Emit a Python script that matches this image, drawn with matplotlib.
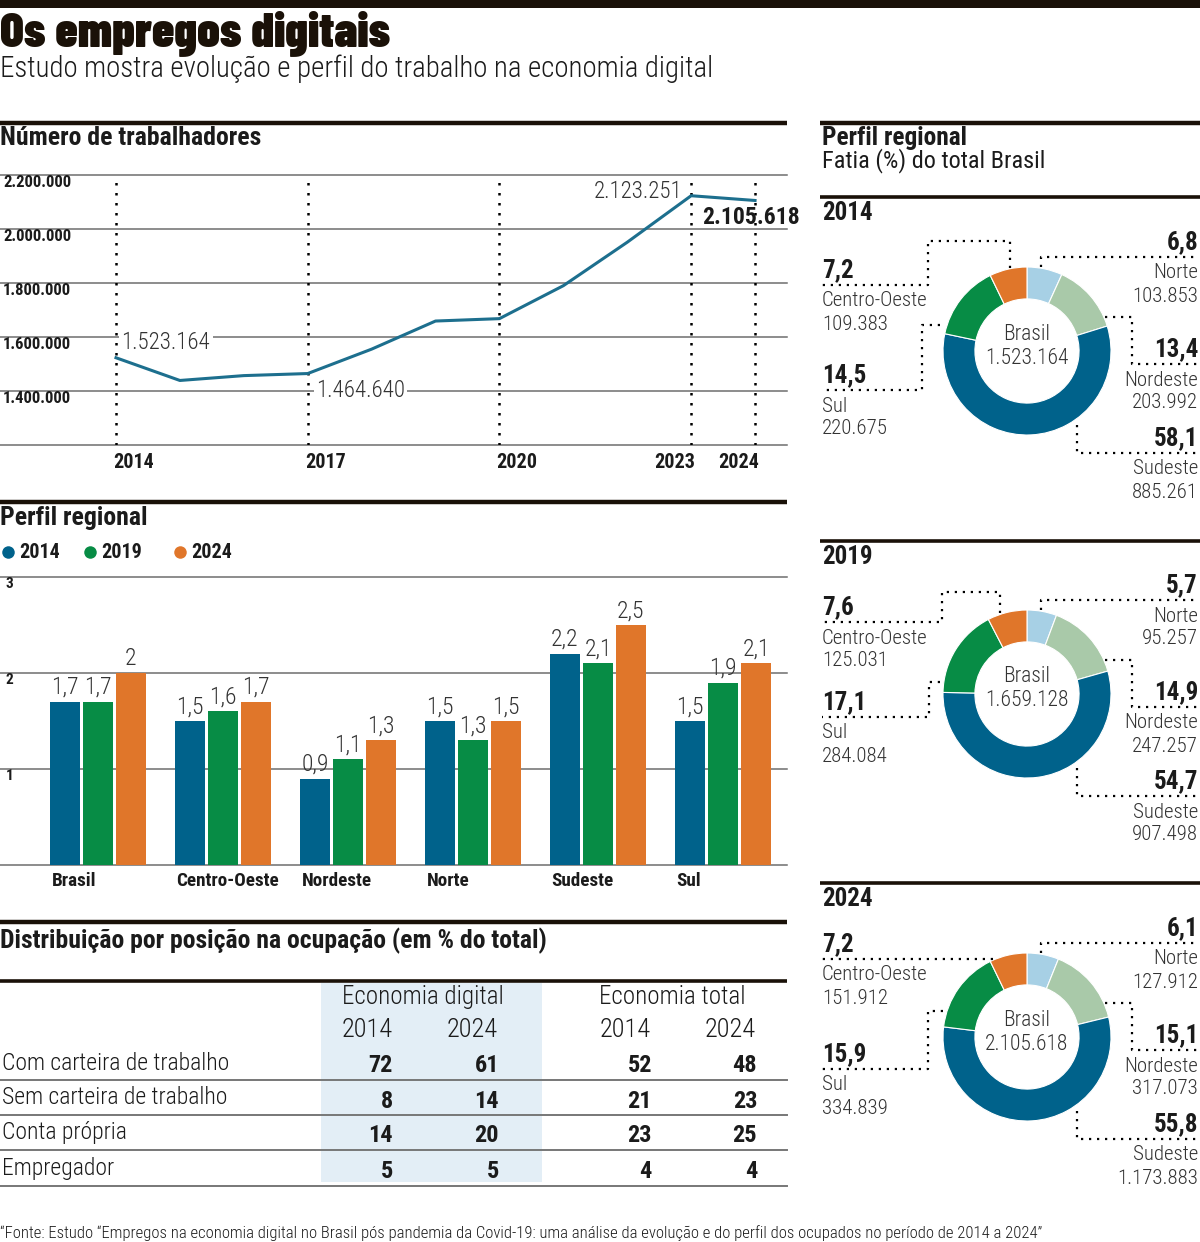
import matplotlib
matplotlib.use("Agg")
import matplotlib.pyplot as plt
from matplotlib.patches import Rectangle
from matplotlib.transforms import blended_transform_factory

# ---- dados ----
anos = [2014, 2015, 2016, 2017, 2018, 2019, 2020, 2021, 2022, 2023, 2024]
trabalhadores = [1523164, 1439000, 1457000, 1464640, 1555000, 1659128,
                 1668000, 1790000, 1951000, 2123251, 2105618]
anos_marcados = [2014, 2017, 2020, 2023, 2024]
y_linha = [1200000, 1400000, 1600000, 1800000, 2000000, 2200000]

regioes = ["Brasil", "Centro-Oeste", "Nordeste", "Norte", "Sudeste", "Sul"]
perfil_2014 = [1.7, 1.5, 0.9, 1.5, 2.2, 1.5]
perfil_2019 = [1.7, 1.6, 1.1, 1.3, 2.1, 1.9]
perfil_2024 = [2.0, 1.7, 1.3, 1.5, 2.5, 2.1]
anos_perfil = ["2014", "2019", "2024"]
y_barras = [0, 1, 2, 3]

# fatias, no sentido horario a partir do topo
fatia_regioes = ["Norte", "Nordeste", "Sudeste", "Sul", "Centro-Oeste"]
fatia_2014 = [6.8, 13.4, 58.1, 14.5, 7.2]
ocup_2014 = [103853, 203992, 885261, 220675, 109383]
fatia_2019 = [5.7, 14.9, 54.7, 17.1, 7.6]
ocup_2019 = [95257, 247257, 907498, 284084, 125031]
fatia_2024 = [6.1, 15.1, 55.8, 15.9, 7.2]
ocup_2024 = [127912, 317073, 1173883, 334839, 151912]
total_brasil = [1523164, 1659128, 2105618]

posicoes = ["Com carteira de trabalho", "Sem carteira de trabalho",
            "Conta própria", "Empregador"]
digital_2014 = [72, 8, 14, 5]
digital_2024 = [61, 14, 20, 5]
total_2014 = [52, 21, 23, 4]
total_2024 = [48, 23, 25, 4]

# ---- estilo ----
plt.rcParams["font.family"] = ["Roboto Condensed", "Liberation Sans Narrow", "Roboto", "DejaVu Sans"]
FAM_TITULO = ["Barlow Condensed", "Roboto Condensed", "DejaVu Sans"]
TXT = "#1b1b1b"
CINZA = "#333333"
REGRA = "#1a1108"
GRADE = "#6e6e6e"
cores_barras = ["#00628b", "#078c45", "#e0762a"]
cores_fatias = ["#a7d0e5", "#a9c9a9", "#00628b", "#078c45", "#e0762a"]
COR_LINHA = "#1d6f8e"


def milhar(n):
    return f"{n:,}".replace(",", ".")


def decimal(v):
    return f"{v:g}".replace(".", ",")


W, H = 1200, 1242
fig = plt.figure(figsize=(12, 12.42), dpi=100)


def caixa(x0, y0, x1, y1):
    return fig.add_axes([x0 / W, 1 - y1 / H, (x1 - x0) / W, (y1 - y0) / H])


# ---- grafico de linha ----
ax = caixa(0, 175, 787, 445)
ax.axis("off")
ax.set_xlim(2012.185, 2024.5)
ax.set_ylim(1200000, 2200000)
tr = blended_transform_factory(ax.transAxes, ax.transData)
for v in y_linha:
    ax.axhline(v, color=GRADE, lw=1.1, zorder=1, clip_on=False)
    if v > 1200000:
        ax.text(0.004, v, milhar(v), transform=tr, ha="left", va="top",
                fontsize=12, fontweight="bold", color=TXT)
for a in anos_marcados:
    ax.axvline(a, color="black", ls=(0, (1, 3)), lw=1.8, zorder=2)
ax.plot(anos, trabalhadores, color=COR_LINHA, lw=2.2, zorder=3)
ha_anos = ["left", "left", "left", "right", "right"]
dx_anos = [-2, -2, -2, 3, 3]
for a, ha, dx in zip(anos_marcados, ha_anos, dx_anos):
    ax.annotate(str(a), xy=(a, 1200000), xytext=(dx, -6), textcoords="offset points",
                ha=ha, va="top", fontsize=14.5, fontweight="bold", color=TXT,
                annotation_clip=False)

caixa_branca = dict(boxstyle="square,pad=0.1", fc="white", ec="none")
ax.annotate(milhar(trabalhadores[0]), xy=(anos[0], trabalhadores[0]), xytext=(4, 11),
            textcoords="offset points", ha="left", va="center", fontsize=16.5,
            fontweight="light", color=CINZA, bbox=caixa_branca, zorder=4)
ax.annotate(milhar(trabalhadores[3]), xy=(anos[3], trabalhadores[3]), xytext=(6, -12),
            textcoords="offset points", ha="left", va="center", fontsize=16.5,
            fontweight="light", color=CINZA, bbox=caixa_branca, zorder=4)
ax.annotate(milhar(trabalhadores[9]), xy=(anos[9], trabalhadores[9]), xytext=(-6, 3),
            textcoords="offset points", ha="right", va="center", fontsize=16.5,
            fontweight="light", color=CINZA, zorder=4)
ax.annotate(milhar(trabalhadores[10]), xy=(anos[10], trabalhadores[10]), xytext=(-3, -12),
            textcoords="offset points", ha="center", va="center", fontsize=17,
            fontweight="bold", color=TXT, zorder=4, annotation_clip=False)

# ---- barras ----
bx = caixa(0, 577, 787, 865)
bx.axis("off")
bx.set_xlim(-0.784, 5.512)
bx.set_ylim(0, 3)
trb = blended_transform_factory(bx.transAxes, bx.transData)
for v in y_barras:
    bx.axhline(v, color=GRADE, lw=1.1, zorder=1, clip_on=False)
    if v > 0:
        bx.text(0.007, v, str(v), transform=trb, ha="left", va="top",
                fontsize=11, fontweight="bold", color=TXT)
passo, largura = 0.264, 0.24
xs = list(range(len(regioes)))
for j, (serie, cor) in enumerate(zip([perfil_2014, perfil_2019, perfil_2024], cores_barras)):
    pos = [x + (j - 1) * passo for x in xs]
    bx.bar(pos, serie, width=largura, color=cor, zorder=2)
    for p, v in zip(pos, serie):
        bx.annotate(decimal(v), xy=(p, v), xytext=(0, 2), textcoords="offset points",
                    ha="center", va="bottom", fontsize=17, fontweight="light", color=CINZA)
for x, nome in zip(xs, regioes):
    bx.annotate(nome, xy=(x - passo - largura / 2, 0), xytext=(1, -5),
                textcoords="offset points", ha="left", va="top", fontsize=13.8,
                fontweight="bold", color=TXT, annotation_clip=False)

# ---- sobreposicao (textos, regras, tabela) ----
ov = fig.add_axes([0, 0, 1, 1], zorder=5)
ov.set_xlim(0, W)
ov.set_ylim(H, 0)
ov.axis("off")

ov.add_patch(Rectangle((0, 0), W, 8, color=REGRA, lw=0))
ov.text(0, 33, "Os empregos digitais", fontsize=35.5, fontweight="black", family=FAM_TITULO,
        color=REGRA, va="center", ha="left")
ov.text(0, 69, "Estudo mostra evolução e perfil do trabalho na economia digital",
        fontsize=20.8, fontweight="light", color=TXT, va="center", ha="left")

for (x0, x1, y, lw) in [(0, 787, 123, 3.2), (820, 1200, 123, 3.2), (0, 787, 502, 3.2),
                        (0, 787, 922, 3.2), (820, 1200, 197, 2.6), (820, 1200, 541, 2.6),
                        (820, 1200, 883, 2.6), (0, 787, 981, 2.6)]:
    ov.plot([x0, x1], [y, y], color=REGRA, lw=lw, solid_capstyle="butt")

ov.text(0, 138, "Número de trabalhadores", fontsize=18.5, fontweight="bold", color=TXT,
        va="center")
ov.text(0, 518, "Perfil regional", fontsize=18.5, fontweight="bold", color=TXT, va="center")
ov.text(0, 941, "Distribuição por posição na ocupação (em % do total)", fontsize=18.5,
        fontweight="bold", color=TXT, va="center")
ov.text(822, 138, "Perfil regional", fontsize=18.3, fontweight="bold", color=TXT, va="center")
ov.text(822, 161, "Fatia (%) do total Brasil", fontsize=17.5, color=TXT, va="center")

# legenda das barras
for xl, rot, cor in zip([8, 90, 180], anos_perfil, cores_barras):
    ov.plot(xl, 552, "o", ms=9, color=cor, mec="none")
    ov.text(xl + 11, 552, rot, fontsize=14.5, fontweight="bold", color=TXT, va="center")

# tabela
ov.add_patch(Rectangle((321, 983), 221, 199, color="#e3eef6", lw=0, zorder=0))
ov.text(423, 997, "Economia digital", fontsize=18, fontweight="light", color=TXT,
        ha="center", va="center")
ov.text(672, 997, "Economia total", fontsize=18, fontweight="light", color=TXT,
        ha="center", va="center")
for xc, rot in zip([367, 472, 625, 730], ["2014", "2024", "2014", "2024"]):
    ov.text(xc, 1030, rot, fontsize=19, fontweight="light", color=TXT, ha="center", va="center")
y_linhas_tab = [1063, 1098, 1133, 1169]
for i, (nome, y) in enumerate(zip(posicoes, y_linhas_tab)):
    ov.text(2, y, nome, fontsize=17, fontweight="light", color=TXT, va="center")
    for xr, col in zip([393, 499, 652, 757], [digital_2014, digital_2024, total_2014, total_2024]):
        ov.text(xr, y + 3, str(col[i]), fontsize=17.5, fontweight="bold", color=TXT,
                ha="right", va="center")
    ov.plot([0, 787], [y + 17, y + 17], color="#777777", lw=1.4)

ov.text(0, 1233, "\u201cFonte: Estudo \u201cEmpregos na economia digital no Brasil pós pandemia da "
        "Covid-19: uma análise da evolução e do perfil dos ocupados no período de 2014 a 2024\u201d",
        fontsize=12, fontweight="light", color=TXT, va="center")

# ---- roscas ----
CX = 1027
centros = [351, 694, 1037]
R = 84
rotas_dir = {
    "Norte": [(14, -84), (14, -94), (171, -94)],
    "Nordeste": [(78, -34), (105, -34), (105, 13), (171, 13)],
    "Sudeste": [(50, 74), (50, 102), (171, 102)],
}
rotas_esq = [
    {"Centro-Oeste": [(-17, -83), (-17, -110), (-99, -110), (-99, -66), (-205, -66)],
     "Sul": [(-87, -26), (-105, -26), (-105, 39), (-205, 39)]},
    {"Centro-Oeste": [(-27, -81), (-27, -102), (-85, -102), (-85, -72), (-205, -72)],
     "Sul": [(-87, -12), (-98, -12), (-98, 23), (-205, 23)]},
    {"Centro-Oeste": [(-34, -78), (-205, -78)],
     "Sul": [(-84, -26), (-99, -26), (-99, 32), (-205, 32)]},
]
for k, (ano, fatias, ocup, total, cy) in enumerate(zip(
        anos_perfil, [fatia_2014, fatia_2019, fatia_2024],
        [ocup_2014, ocup_2019, ocup_2024], total_brasil, centros)):
    dax = caixa(CX - R, cy - R, CX + R, cy + R)
    dax.pie(fatias, colors=cores_fatias, startangle=90, counterclock=False,
            wedgeprops=dict(width=0.38, edgecolor="white", linewidth=0.8))
    dax.set_xlim(-1, 1)
    dax.set_ylim(-1, 1)
    dax.set_aspect("equal")
    dax.axis("off")

    topo = [197, 541, 883][k]
    ov.text(822, topo + 16, ano, fontsize=18, fontweight="bold", color=TXT, va="center")
    ov.text(CX, cy - 17, "Brasil", fontsize=15.5, fontweight="light", color=CINZA,
            ha="center", va="center")
    ov.text(CX, cy + 7, milhar(total), fontsize=15.5, fontweight="light", color=CINZA,
            ha="center", va="center")

    rotas = dict(rotas_dir)
    rotas.update(rotas_esq[k])
    for nome, f, n in zip(fatia_regioes, fatias, ocup):
        pts = rotas[nome]
        ov.plot([CX + p[0] for p in pts], [cy + p[1] for p in pts], color="black",
                ls=(0, (1, 2.6)), lw=1.6)
        ly = cy + pts[-1][1]
        if pts[-1][0] > 0:
            xt, ha = 1198, "right"
        else:
            xt, ha = 822, "left"
        ov.text(xt, ly - 15, decimal(f), fontsize=18, fontweight="bold", color=TXT,
                ha=ha, va="center")
        ov.text(xt, ly + 16, nome, fontsize=15, fontweight="light", color=CINZA,
                ha=ha, va="center")
        ov.text(xt, ly + 39, milhar(n), fontsize=15, fontweight="light", color=CINZA,
                ha=ha, va="center")

fig.savefig("out.png", dpi=100)
